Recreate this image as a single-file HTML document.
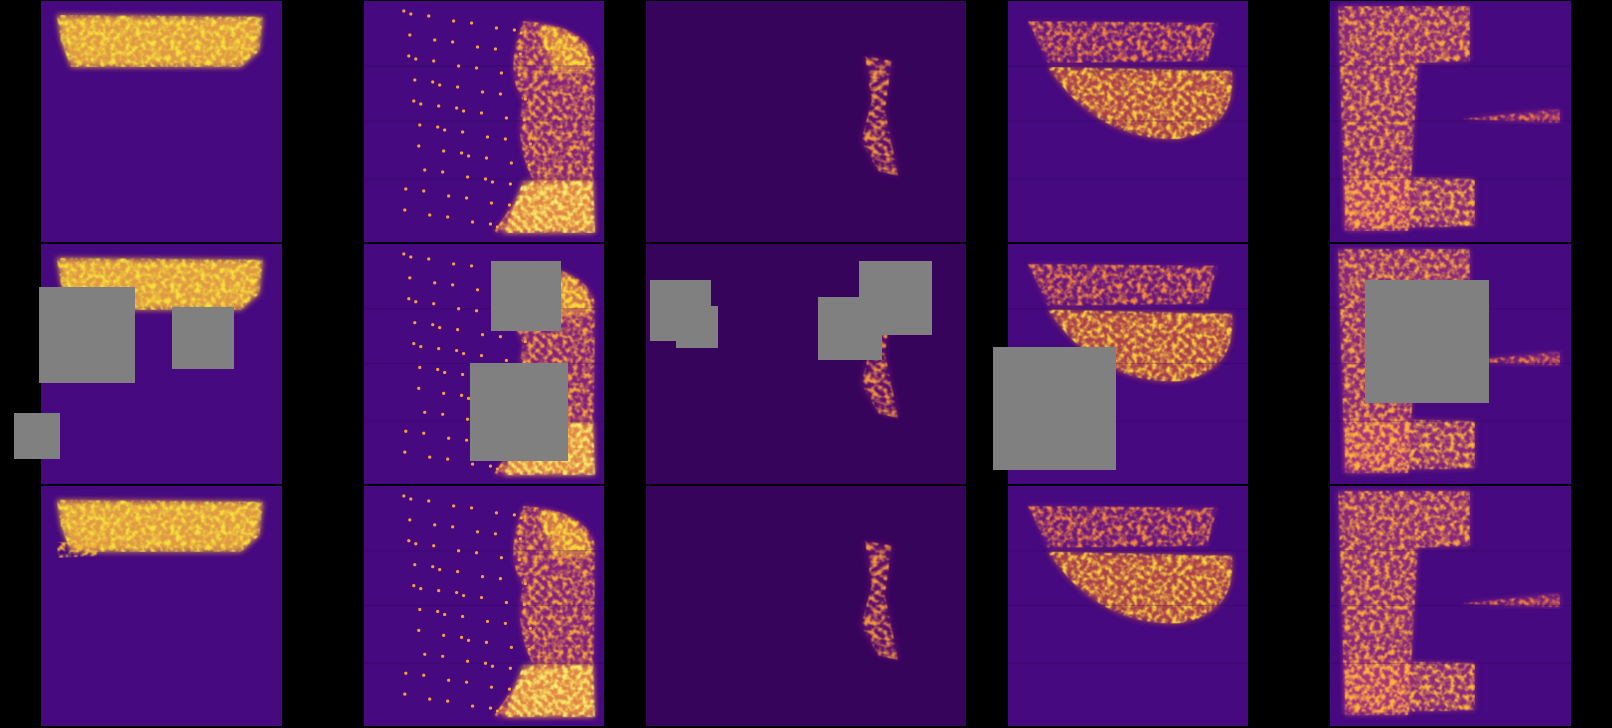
<!DOCTYPE html>
<html><head><meta charset="utf-8"><style>
html,body{margin:0;padding:0;background:#000;}
svg{display:block}
</style></head><body>
<svg id="fig" width="1612" height="728" viewBox="0 0 1612 728" xmlns="http://www.w3.org/2000/svg">
<defs>
<filter id="tex" x="0" y="0" width="100%" height="100%">
  <feTurbulence type="fractalNoise" baseFrequency="0.2" numOctaves="2" seed="3" result="n"/>
  <feColorMatrix in="n" type="matrix" values="0 0 0 0 0  0 0 0 0 0  0 0 0 0 0  0 0 0 3.2 -1.3" result="a"/>
  <feComposite in="SourceGraphic" in2="a" operator="in" result="c"/>
  <feGaussianBlur in="c" stdDeviation="0.5"/>
</filter>
<filter id="soft"><feGaussianBlur stdDeviation="3"/></filter>
</defs>
<rect width="1612" height="728" fill="#000"/>
<g id="panels"></g>
<g id="masks"></g>
</svg>
<script>
const NS='http://www.w3.org/2000/svg';
const cols=[[41,282],[364,604],[646,966],[1008,1248],[1330,1571]];
const rows=[[1,242],[244,484],[486,726]];
const bg=['#46097f','#46097f','#37045c','#46097f','#46097f'];
const masks=[[39,287,96,96],[172,307,62,62],[14,413,46,46],[491,261,70,70],[470,363,98,98],[650,280,61,61],[676,306,42,42],[818,297,64,63],[859,261,73,74],[993,347,123,123],[1365,280,124,123]];
const P=document.getElementById('panels');
function el(t,a,p){const e=document.createElementNS(NS,t);for(const k in a)e.setAttribute(k,a[k]);p.appendChild(e);return e;}
const shapes=[
 [['M16 14 L222 16 L218 50 L200 66 L30 66 L20 40 Z','#fbb43a','#f7e23a',0.85]],
 [['M160 20 Q225 25 232 60 L230 230 L130 232 Q150 200 170 180 Q150 140 160 100 Q140 70 160 20 Z','#b8357a','#f8a63a',0.55],
  ['M160 180 L230 180 L232 232 L140 232 Z','#f7a03a','#f7f070',0.8],
  ['M175 25 Q228 30 228 70 L190 70 Z','#f39a3a','#f7e23a',0.7]],
 [['M165 55 L185 60 L180 110 L190 175 L175 170 L162 140 L170 100 Z','#8a1f80','#f39540',0.5]],
 [['M20 20 L210 22 L200 60 L40 62 Z','#9a2a80','#f58c3a',0.45],
  ['M40 66 L225 70 Q230 130 170 138 Q90 140 40 66 Z','#d8583a','#fbd23a',0.7]],
 [['M8 5 L140 5 L140 60 L88 62 L78 230 L15 230 Z','#c0407a','#fca83a',0.55],
  ['M15 175 L145 178 L145 225 L15 228 Z','#c4407a','#fbb53a',0.55],
  ['M130 118 L230 108 L230 122 Z','#a03080','#ee7a40',0.6]]
];
rows.forEach((r,ri)=>{cols.forEach((c,ci)=>{
  const w=c[1]-c[0],h=r[1]-r[0];
  const g=el('g',{transform:`translate(${c[0]},${r[0]})`},P);
  
  
  el('rect',{width:w,height:h,fill:bg[ci]},g);
  const sx=w/241,sy=h/241;
  const hg=el('g',{transform:`scale(${sx},${sy})`},g);
  shapes[ci].forEach(s=>{
    el('path',{d:s[0],fill:s[1],opacity:s[3],filter:'url(#soft)'},hg);
    el('path',{d:s[0],fill:s[2],filter:'url(#tex)'},hg);
  });
  if(ci===1||ci===3||ci===4){
    [65,120,178].forEach(y=>el('line',{x1:0,y1:y,x2:241,y2:y,stroke:'#2a0550',"stroke-width":1.2,opacity:0.25},hg));
  }
  if(ci===1){
    for(let i=0;i<70;i++){const x=40+((i*53)%130),y=10+((i*97)%220);
      el('circle',{cx:x,cy:y,r:1.6,fill:'#f6a03a'},hg);}
  }
  if(ci===0&&ri===2) el('path',{d:'M15 56 L60 58 L55 70 L18 72 Z',fill:'#f8b63a',filter:'url(#tex)'},hg);
}); });
const M=document.getElementById('masks');
masks.forEach((m,i)=>{
  const r=el('rect',{x:m[0],y:m[1],width:m[2],height:m[3],fill:'#808080'},M);
  
  
});
</script>
</body></html>
